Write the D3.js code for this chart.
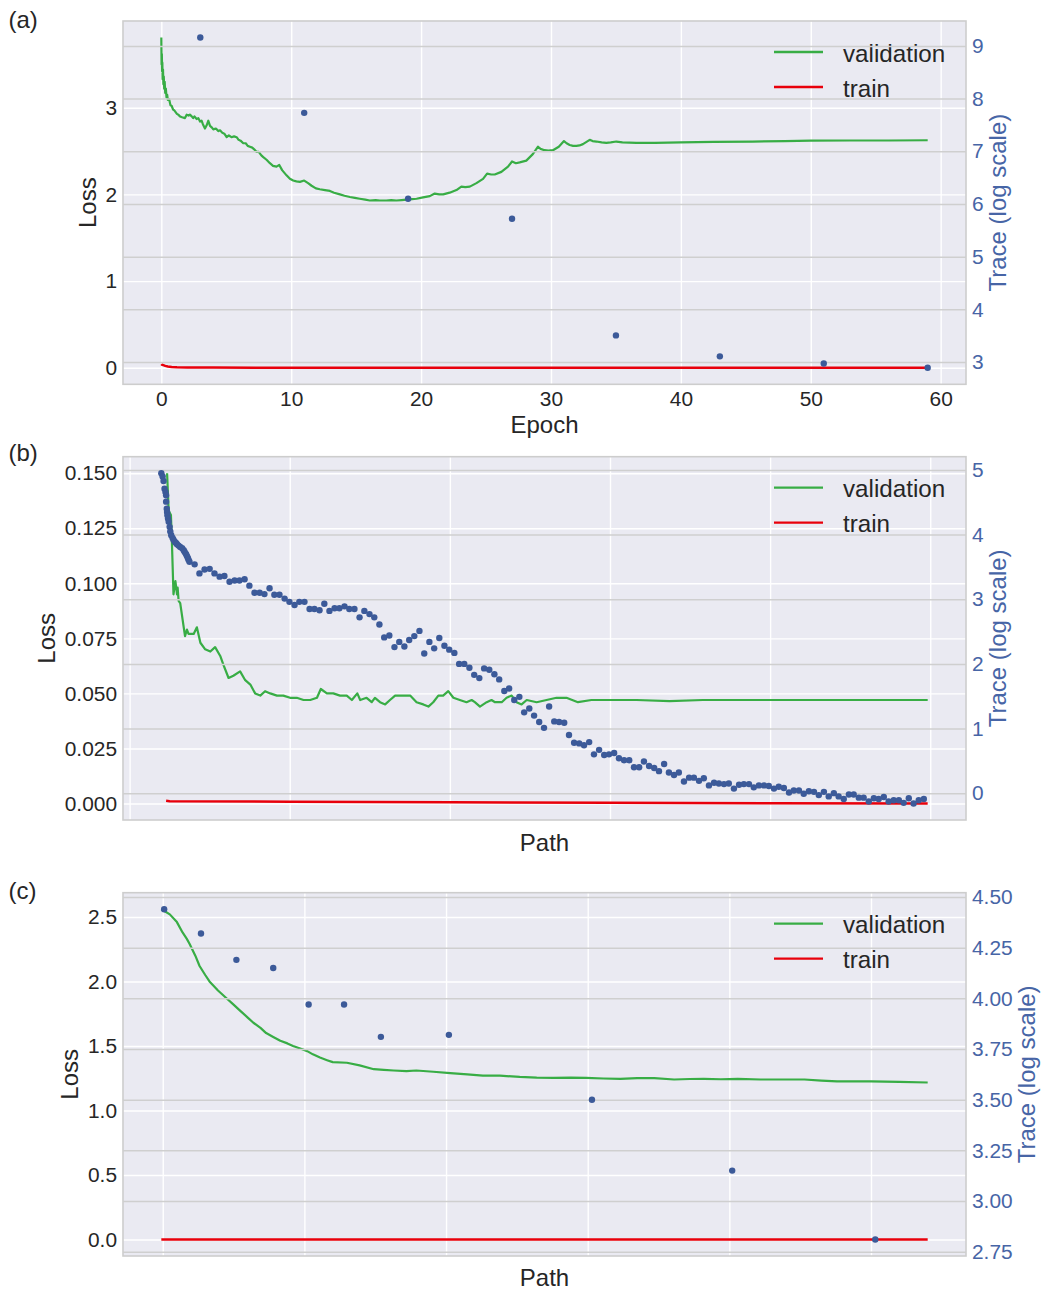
<!DOCTYPE html>
<html><head><meta charset="utf-8">
<script src="https://cdn.jsdelivr.net/npm/d3@7"></script>
<style>
body{margin:0;background:#fff}
svg text{font-family:"Liberation Sans",Arial,sans-serif}
</style>
</head><body>
<svg id="chart" width="1045" height="1289"></svg>
<script>
// ---------------- DATA ----------------
// Panel (a): loss per epoch
const valA = [[0,3.81],[0.02,3.5],[0.04,3.62],[0.06,3.42],[0.08,3.52],[0.1,3.33],[0.13,3.44],[0.16,3.27],[0.19,3.36],[0.22,3.22],[0.26,3.3],[0.3,3.17],[0.35,3.22],[0.4,3.12],[0.45,3.15],[0.5,3.09],[0.6,3.1],[0.7,3.03],[0.8,3.02],[0.9,2.98],[1.0,2.97],[1.1,2.95],[1.2,2.93],[1.3,2.92],[1.44,2.9],[1.6,2.89],[1.82,2.88],[1.95,2.92],[2.1,2.91],[2.2,2.92],[2.34,2.9],[2.45,2.88],[2.55,2.9],[2.72,2.87],[2.85,2.88],[2.98,2.84],[3.1,2.85],[3.2,2.81],[3.36,2.76],[3.5,2.8],[3.62,2.85],[3.75,2.79],[3.9,2.77],[4.0,2.75],[4.2,2.76],[4.4,2.73],[4.52,2.74],[4.7,2.71],[4.85,2.7],[5.03,2.66],[5.2,2.68],[5.4,2.66],[5.6,2.67],[5.8,2.66],[5.95,2.63],[6.1,2.62],[6.31,2.59],[6.5,2.59],[6.65,2.56],[6.82,2.55],[7.0,2.54],[7.15,2.52],[7.34,2.49],[7.5,2.49],[7.7,2.45],[7.85,2.43],[8.1,2.4],[8.36,2.36],[8.6,2.33],[8.87,2.32],[9.08,2.34],[9.3,2.28],[9.64,2.22],[9.9,2.18],[10.15,2.16],[10.4,2.15],[10.67,2.145],[11.0,2.16],[11.3,2.13],[11.57,2.1],[11.9,2.07],[12.2,2.06],[12.6,2.05],[12.98,2.04],[13.3,2.02],[13.75,2.0],[14.1,1.985],[14.52,1.97],[14.9,1.96],[15.28,1.95],[15.7,1.94],[16.05,1.93],[16.5,1.935],[16.82,1.93],[17.33,1.93],[17.7,1.935],[18.1,1.93],[18.5,1.935],[18.87,1.94],[19.3,1.945],[19.65,1.95],[20.15,1.965],[20.67,1.98],[21.05,2.01],[21.4,2.0],[21.7,2.0],[22.2,2.02],[22.72,2.05],[23.1,2.09],[23.4,2.085],[23.75,2.09],[24.26,2.13],[24.77,2.18],[25.08,2.24],[25.4,2.23],[25.67,2.23],[26.18,2.26],[26.69,2.32],[27.0,2.38],[27.3,2.36],[27.59,2.37],[28.1,2.39],[28.6,2.465],[29.0,2.55],[29.2,2.525],[29.5,2.51],[29.8,2.505],[30.15,2.51],[30.6,2.55],[31.0,2.615],[31.2,2.59],[31.44,2.57],[31.7,2.56],[31.95,2.56],[32.2,2.565],[32.46,2.58],[32.98,2.63],[33.2,2.615],[33.5,2.61],[33.9,2.6],[34.26,2.595],[34.6,2.6],[35.03,2.61],[35.5,2.6],[36.57,2.595],[38,2.595],[40,2.6],[42.5,2.605],[45.5,2.61],[48,2.615],[50,2.62],[53,2.622],[56,2.622],[59,2.625]];
const trainA = [[0,0.043],[0.05,0.035],[0.15,0.03],[0.3,0.022],[0.5,0.015],[0.8,0.01],[1.2,0.006],[2,0.003],[4,0.002],[10,0.001],[30,0.0005],[59,0]];
const epochA = [3,11,19,27,35,43,51,59];
const traceA = [9.16,7.73,6.10,5.72,3.505,3.107,2.97,2.89];
const xTicksA = [0,10,20,30,40,50,60];
const lossTicksA = [0,1,2,3];
const traceTicksA = [3,4,5,6,7,8,9];

// Panel (b)
const valB = [[11.7,0.150],[12.2,0.133],[12.9,0.131],[13.2,0.119],[13.7,0.095],[14.3,0.101],[14.8,0.095],[15.0,0.098],[15.3,0.092],[15.8,0.091],[16.4,0.085],[16.9,0.080],[17.3,0.076],[17.9,0.079],[18.4,0.077],[18.9,0.077],[20.0,0.077],[21.0,0.080],[22.1,0.073],[23.6,0.070],[25.2,0.069],[26.7,0.071],[28.3,0.067],[29.3,0.063],[30.9,0.057],[32.4,0.058],[34.5,0.060],[36.1,0.056],[37.7,0.054],[39.2,0.050],[40.8,0.049],[42.3,0.051],[43.9,0.050],[46.0,0.049],[48.0,0.049],[50.1,0.048],[52.2,0.048],[54.3,0.047],[56.4,0.047],[58.5,0.048],[59.7,0.052],[61.6,0.050],[63.6,0.050],[65.7,0.049],[67.8,0.049],[69.4,0.047],[71.1,0.050],[72.0,0.047],[74.0,0.048],[75.6,0.046],[76.6,0.048],[78.2,0.046],[79.8,0.045],[81.3,0.047],[82.9,0.049],[84.4,0.049],[86.0,0.049],[87.6,0.049],[89.6,0.046],[91.7,0.045],[93.3,0.044],[94.8,0.046],[96.4,0.049],[97.9,0.049],[99.5,0.051],[101.1,0.048],[103.1,0.047],[105.2,0.046],[106.8,0.047],[107.8,0.046],[109.4,0.044],[111.5,0.046],[113.0,0.047],[114.1,0.046],[116.2,0.046],[117.7,0.048],[119.3,0.049],[120.8,0.046],[122.4,0.045],[124.0,0.047],[127.1,0.046],[130.2,0.047],[133.3,0.048],[136.4,0.048],[140.0,0.046],[144.2,0.047],[147.8,0.047],[158.3,0.047],[168.6,0.0465],[179.0,0.047],[189.4,0.047],[199.8,0.047],[215.4,0.047],[225.8,0.047],[236.2,0.047],[249.2,0.047]];
const trainB = [[11.4,0.0012],[12.5,0.0010],[50,0.0008],[100,0.0006],[150,0.0003],[200,0.0001],[249.2,0]];
const pathB = [9.9,10.3,10.6,10.9,11.2,11.4,11.4,11.6,11.7,11.8,12.0,12.2,12.5,12.7,13.0,13.4,13.7,14.1,14.5,14.8,15.3,15.8,16.4,16.9,17.2,17.6,17.9,18.2,18.4,18.7,
20.3,21.8,23.4,25.0,26.5,28.1,29.6,31.2,32.8,34.3,
35.9,37.4,39.0,40.6,42.1,43.7,45.2,46.8,48.4,49.9,
51.5,53.0,54.6,56.2,57.7,59.3,60.8,62.4,64.0,65.5,
67.1,68.6,70.2,71.8,73.3,74.9,76.4,78.0,79.5,81.1,
82.7,84.2,85.8,87.3,88.9,90.5,92.0,93.6,95.1,96.7,
98.3,99.8,101.4,102.9,104.5,106.1,107.6,109.2,110.7,112.3,
113.9,115.4,117.0,118.5,120.1,121.7,123.2,124.8,126.3,127.9,
129.4,131.0,132.6,134.1,135.7,137.2,138.8,140.4,141.9,143.5,
145.0,146.6,148.2,149.7,151.3,152.8,154.4,156.0,157.5,159.1,
160.6,162.2,163.8,165.3,166.9,168.4,170.0,171.5,173.1,174.7,
176.2,177.8,179.3,180.9,182.5,184.0,185.6,187.1,188.7,190.3,
191.8,193.4,194.9,196.5,198.1,199.6,201.2,202.7,204.3,205.9,
207.4,209.0,210.5,212.1,213.7,215.2,216.8,218.3,219.9,221.4,
223.0,224.6,226.1,227.7,229.2,230.8,232.4,233.9,235.5,237.0,
238.6,240.2,241.7,243.3,244.8,246.4,248.0];
const traceB = [4.95,4.90,4.83,4.71,4.66,4.61,4.51,4.40,4.35,4.30,4.25,4.20,4.12,4.05,3.99,3.95,3.92,3.89,3.87,3.85,3.83,3.81,3.79,3.76,3.73,3.70,3.67,3.64,3.61,3.58,
3.54,3.40,3.46,3.47,3.40,3.35,3.36,3.27,3.29,3.29,
3.31,3.21,3.10,3.10,3.08,3.17,3.07,3.07,3.01,2.96,
2.91,2.96,2.96,2.85,2.85,2.83,2.93,2.82,2.86,2.86,
2.89,2.85,2.85,2.72,2.82,2.77,2.72,2.61,2.41,2.44,
2.26,2.34,2.27,2.37,2.43,2.51,2.16,2.34,2.24,2.40,
2.28,2.22,2.17,2.00,2.00,1.94,1.83,1.78,1.93,1.91,
1.84,1.76,1.58,1.62,1.44,1.49,1.25,1.31,1.20,1.10,
1.01,1.34,1.11,1.10,1.09,0.90,0.78,0.77,0.74,0.79,
0.60,0.67,0.59,0.60,0.62,0.54,0.51,0.51,0.40,0.40,
0.49,0.42,0.39,0.34,0.45,0.32,0.28,0.32,0.18,0.24,
0.24,0.19,0.23,0.12,0.16,0.15,0.14,0.15,0.07,0.13,
0.14,0.14,0.09,0.12,0.12,0.11,0.07,0.10,0.08,0.01,
0.04,0.04,-0.01,0.03,0.02,-0.03,0.02,-0.05,0.00,-0.05,
-0.09,-0.02,-0.02,-0.07,-0.07,-0.13,-0.08,-0.09,-0.06,-0.13,
-0.11,-0.11,-0.15,-0.08,-0.16,-0.11,-0.09];
const xGridB = [0,50,100,150,200,250];
const lossTicksB = [0,0.025,0.05,0.075,0.1,0.125,0.15];
const traceTicksB = [0,1,2,3,4,5];

// Panel (c)
const valC = [[-0.01,2.56],[0.02,2.54],[0.05,2.52],[0.1,2.46],[0.14,2.38],[0.17,2.33],[0.19,2.29],[0.23,2.2],[0.26,2.12],[0.3,2.05],[0.33,2.0],[0.39,1.93],[0.45,1.87],[0.5,1.82],[0.54,1.78],[0.6,1.72],[0.64,1.68],[0.69,1.64],[0.73,1.6],[0.78,1.57],[0.83,1.54],[0.88,1.52],[0.92,1.5],[0.97,1.48],[1.02,1.46],[1.06,1.435],[1.11,1.41],[1.16,1.39],[1.2,1.375],[1.3,1.37],[1.39,1.35],[1.49,1.32],[1.56,1.315],[1.63,1.31],[1.72,1.305],[1.79,1.31],[1.91,1.3],[2.03,1.29],[2.15,1.28],[2.26,1.27],[2.38,1.27],[2.52,1.26],[2.64,1.255],[2.76,1.253],[2.88,1.255],[2.99,1.253],[3.11,1.248],[3.23,1.245],[3.35,1.25],[3.47,1.25],[3.61,1.24],[3.72,1.244],[3.82,1.245],[3.94,1.242],[4.06,1.245],[4.22,1.24],[4.38,1.24],[4.53,1.24],[4.65,1.232],[4.76,1.225],[4.88,1.226],[5.0,1.225],[5.2,1.222],[5.40,1.217]];
const trainC = [[-0.01,0.0],[5.40,0.0]];
const pathC = [0.01,0.27,0.52,0.78,1.03,1.28,1.54,2.02,3.03,4.02,5.03];
const traceC = [4.44,4.32,4.19,4.15,3.97,3.97,3.81,3.82,3.50,3.15,2.81];
const xGridC = [0,1,2,3,4,5];
const lossTicksC = [0,0.5,1.0,1.5,2.0,2.5];
const traceTicksC = [2.75,3.0,3.25,3.5,3.75,4.0,4.25,4.5];

const legendLabels = ["validation","train"];

// ---------------- STYLE ----------------
const C = {
  bg:"#EAEAF2", white:"#ffffff", gray:"#cfcfcf", frame:"#cdcdcd",
  green:"#38ad45", red:"#e8000b", dot:"#3c5a99", blueText:"#4765a6", text:"#262626"
};
const FS = {tick:20.9, label:24, legend:24.2};

const svg = d3.select("#chart");

function padExt(vals){
  const [a,b] = d3.extent(vals);
  const p = (b-a)*0.05;
  return [a-p,b+p];
}

function panel(cfg){
  const L=123, R=966, T=cfg.top, B=cfg.bottom;
  const g = svg.append("g");
  const xs = [...cfg.val.map(d=>d[0]), ...cfg.train.map(d=>d[0]), ...cfg.path];
  const x = d3.scaleLinear().domain(padExt(xs)).range([L,R]);
  const yL = d3.scaleLinear().domain(padExt([...cfg.val.map(d=>d[1]), ...cfg.train.map(d=>d[1])])).range([B,T]);
  const yR = d3.scaleLinear().domain(padExt(cfg.trace)).range([B,T]);

  g.append("rect").attr("x",L).attr("y",T).attr("width",R-L).attr("height",B-T).attr("fill",C.bg);

  // white grid (left axis + x)
  const wg = g.append("g");
  wg.append("g").attr("transform",`translate(${L},0)`)
    .call(d3.axisLeft(yL).tickValues(cfg.lossTicks).tickSize(-(R-L)).tickFormat(""))
    .call(s=>s.select(".domain").remove())
    .call(s=>s.selectAll("line").attr("stroke",C.white).attr("stroke-width",1.4));
  wg.append("g").attr("transform",`translate(0,${B})`)
    .call(d3.axisBottom(x).tickValues(cfg.xTicks).tickSize(-(B-T)).tickFormat(""))
    .call(s=>s.select(".domain").remove())
    .call(s=>s.selectAll("line").attr("stroke",C.white).attr("stroke-width",1.4));

  // lines
  const line = d3.line().x(d=>x(d[0])).y(d=>yL(d[1]));
  g.append("path").datum(cfg.val).attr("d",line).attr("fill","none").attr("stroke",C.green).attr("stroke-width",2.2).attr("stroke-linejoin","round");
  g.append("path").datum(cfg.train).attr("d",line).attr("fill","none").attr("stroke",C.red).attr("stroke-width",2.5).attr("stroke-linejoin","round");

  // legend
  const lg = g.append("g");
  [C.green,C.red].forEach((col,i)=>{
    const ly = T + 31 + i*35;
    lg.append("line").attr("x1",774).attr("x2",823).attr("y1",ly).attr("y2",ly).attr("stroke",col).attr("stroke-width",2.3);
    lg.append("text").attr("x",843).attr("y",ly+9.5).attr("font-size",FS.legend).attr("fill",C.text).text(legendLabels[i]);
  });

  // gray grid (right axis)
  g.append("g").attr("transform",`translate(${R},0)`)
    .call(d3.axisRight(yR).tickValues(cfg.traceTicks).tickSize(-(R-L)).tickFormat(""))
    .call(s=>s.select(".domain").remove())
    .call(s=>s.selectAll("line").attr("stroke",C.gray).attr("stroke-width",1.5));

  // dots
  g.append("g").selectAll("circle").data(cfg.path.map((p,i)=>[p,cfg.trace[i]]))
    .join("circle").attr("cx",d=>x(d[0])).attr("cy",d=>yR(d[1])).attr("r",3.2).attr("fill",C.dot);

  // frame
  g.append("rect").attr("x",L).attr("y",T).attr("width",R-L).attr("height",B-T)
    .attr("fill","none").attr("stroke",C.frame).attr("stroke-width",1.6);

  // tick labels
  g.append("g").attr("transform",`translate(${L},0)`)
    .call(d3.axisLeft(yL).tickValues(cfg.lossTicks).tickSize(0).tickPadding(6).tickFormat(cfg.lossFmt))
    .call(s=>s.select(".domain").remove())
    .call(s=>s.selectAll("text").attr("font-size",FS.tick).attr("fill",C.text).attr("font-family",null));
  g.append("g").attr("transform",`translate(${R},0)`)
    .call(d3.axisRight(yR).tickValues(cfg.traceTicks).tickSize(0).tickPadding(6).tickFormat(cfg.traceFmt))
    .call(s=>s.select(".domain").remove())
    .call(s=>s.selectAll("text").attr("font-size",FS.tick).attr("fill",C.blueText).attr("font-family",null));
  if (cfg.xLabels){
    g.append("g").attr("transform",`translate(0,${B})`)
      .call(d3.axisBottom(x).tickValues(cfg.xTicks).tickSize(0).tickPadding(7).tickFormat(d3.format("d")))
      .call(s=>s.select(".domain").remove())
      .call(s=>s.selectAll("text").attr("font-size",FS.tick).attr("fill",C.text).attr("font-family",null));
  }

  // axis labels
  const cy = (T+B)/2;
  g.append("text").attr("transform",`translate(${cfg.lossLabelX},${cy}) rotate(-90)`)
    .attr("text-anchor","middle").attr("dy","0.36em").attr("font-size",FS.label).attr("fill",C.text).text("Loss");
  g.append("text").attr("transform",`translate(${cfg.traceLabelX},${cy}) rotate(-90)`)
    .attr("text-anchor","middle").attr("dy","0.26em").attr("font-size",FS.label).attr("fill",C.blueText).text("Trace (log scale)");
  g.append("text").attr("x",(L+R)/2).attr("y",cfg.xLabelY).attr("text-anchor","middle")
    .attr("font-size",FS.label).attr("fill",C.text).text(cfg.xLabel);
  g.append("text").attr("x",8.5).attr("y",cfg.tagY).attr("font-size",FS.label).attr("fill",C.text).text(cfg.tag);
}

panel({top:21,bottom:384.3,val:valA,train:trainA,path:epochA,trace:traceA,
  xTicks:xTicksA,lossTicks:lossTicksA,traceTicks:traceTicksA,
  lossFmt:d3.format("d"),traceFmt:d3.format("d"),xLabels:true,
  lossLabelX:87.5,traceLabelX:999.7,xLabel:"Epoch",xLabelY:433,tag:"(a)",tagY:27.5});
panel({top:456.7,bottom:820,val:valB,train:trainB,path:pathB,trace:traceB,
  xTicks:xGridB,lossTicks:lossTicksB,traceTicks:traceTicksB,
  lossFmt:d3.format(".3f"),traceFmt:d3.format("d"),xLabels:false,
  lossLabelX:46,traceLabelX:999.7,xLabel:"Path",xLabelY:850.5,tag:"(b)",tagY:461});
panel({top:892.7,bottom:1256,val:valC,train:trainC,path:pathC,trace:traceC,
  xTicks:xGridC,lossTicks:lossTicksC,traceTicks:traceTicksC,
  lossFmt:d3.format(".1f"),traceFmt:d3.format(".2f"),xLabels:false,
  lossLabelX:69,traceLabelX:1028.3,xLabel:"Path",xLabelY:1285.5,tag:"(c)",tagY:898.5});
</script>
</body></html>
